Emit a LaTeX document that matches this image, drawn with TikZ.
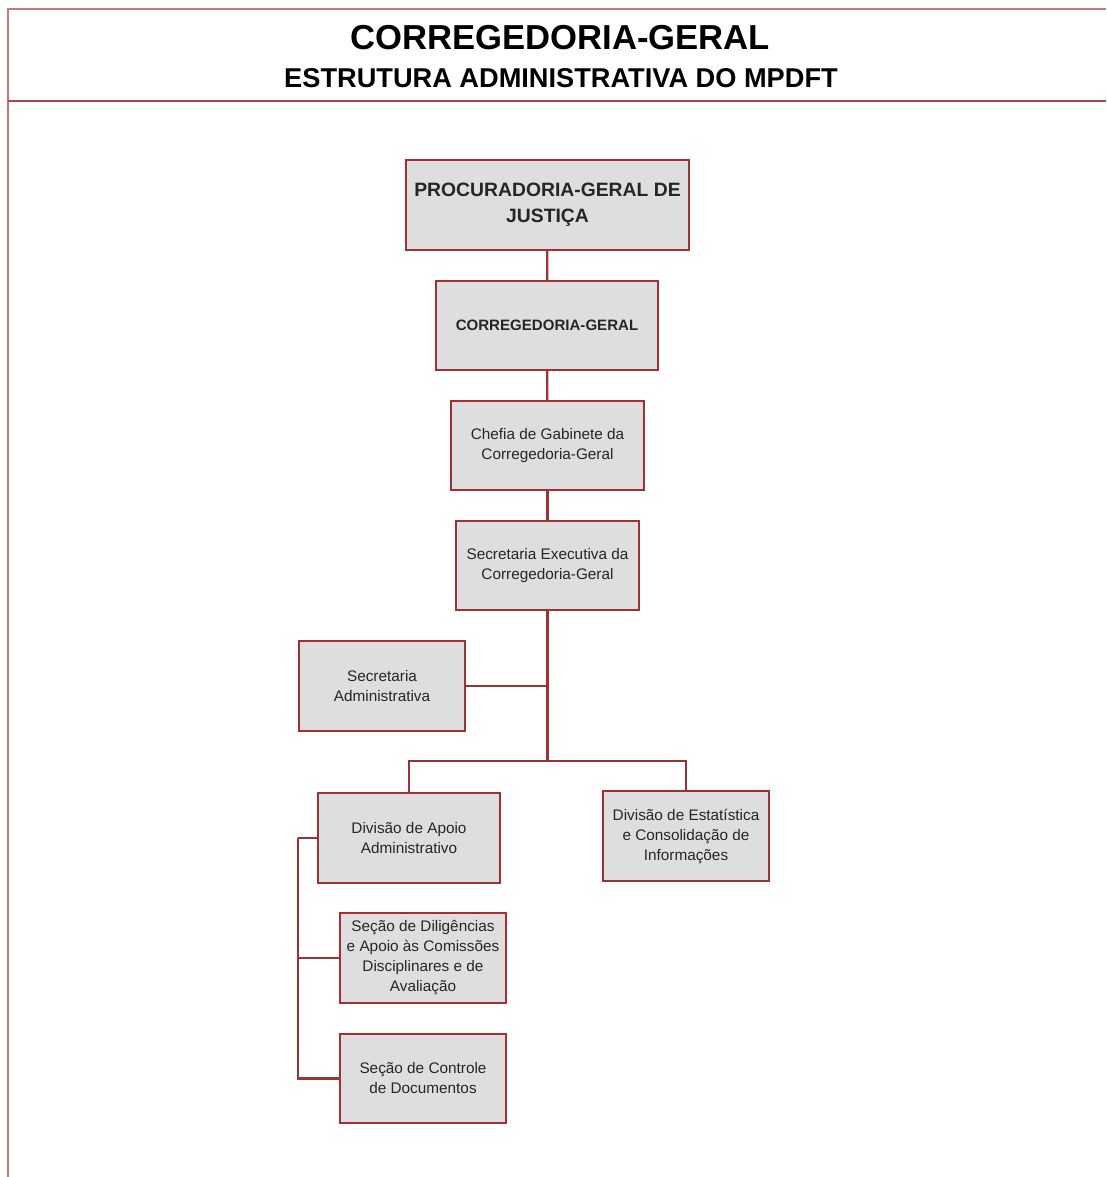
\documentclass[tikz,border=0pt]{standalone}
\usepackage{fontspec}
\setmainfont{Liberation Sans}
\usetikzlibrary{calc}
\definecolor{borda}{RGB}{160,48,52}
\definecolor{moldura}{RGB}{196,120,120}
\definecolor{fundo}{RGB}{222,222,222}
\tikzset{
  unit/.style={rectangle, draw=borda, line width=1.5pt, fill=fundo, align=center,
    inner sep=2pt, minimum height=67pt, font=\fontsize{11.5}{15}\selectfont, text=black!85},
  chief/.style={unit, font=\bfseries\fontsize{14.5}{19.5}\selectfont},
  link/.style={draw=borda, line width=1.6pt},
}
\begin{document}
\begin{tikzpicture}[x=0.75pt, y=-0.75pt]
  \useasboundingbox (0,0) rectangle (1106,1177);

  \draw[moldura, line width=2.2pt] (8,1177) -- (8,9) -- (1106,9);
  \draw[borda!90, line width=1.5pt] (8,101) -- (1106,101);
  \node[font=\bfseries\fontsize{26}{30}\selectfont] (titulo) at (560,38) {CORREGEDORIA-GERAL};
  \node[font=\bfseries\fontsize{20.4}{24}\selectfont] (subtitulo) at (561,78) {ESTRUTURA ADMINISTRATIVA DO MPDFT};

  \node[chief, minimum width=212pt] (pgj) at (547.5,205) {PROCURADORIA-GERAL DE\\JUSTIÇA};
  \node[unit, minimum width=166.5pt, font=\bfseries\fontsize{11.3}{15}\selectfont] (cg) at (547,325.5) {CORREGEDORIA-GERAL};
  \node[unit, minimum width=144.75pt] (chefia) at (547.5,445.5) {Chefia de Gabinete da\\Corregedoria-Geral};
  \node[unit, minimum width=137.25pt] (secexec) at (547.5,565.5) {Secretaria Executiva da\\Corregedoria-Geral};
  \node[unit, minimum width=124.5pt] (secadm) at (382,686) {Secretaria\\Administrativa};
  \node[unit, minimum width=136.5pt] (divapoio) at (409,838) {Divisão de Apoio\\Administrativo};
  \node[unit, minimum width=124.5pt] (divest) at (686,836) {Divisão de Estatística\\e Consolidação de\\Informações};
  \node[unit, minimum width=124.5pt] (secdil) at (423,958) {Seção de Diligências\\e Apoio às Comissões\\Disciplinares e de\\Avaliação};
  \node[unit, minimum width=124.5pt] (secctrl) at (423,1078.5) {Seção de Controle\\de Documentos};

  \coordinate (tee) at (547.5,686);
  \coordinate (hub) at (547.5,761);
  \coordinate (rail) at (298,838);

  \draw[link] (pgj) -- (cg);
  \draw[link] (cg) -- (chefia);
  \draw[link] (chefia) -- (secexec);
  \draw[link] (secexec) -- (hub);
  \draw[link] (secadm) -- (tee);
  \draw[link] (hub) -| (divapoio);
  \draw[link] (hub) -| (divest);
  \draw[link] (divapoio) -- (rail);
  \draw[link] (rail) |- (secdil);
  \draw[link] (rail) |- (secctrl);
\end{tikzpicture}
\end{document}
